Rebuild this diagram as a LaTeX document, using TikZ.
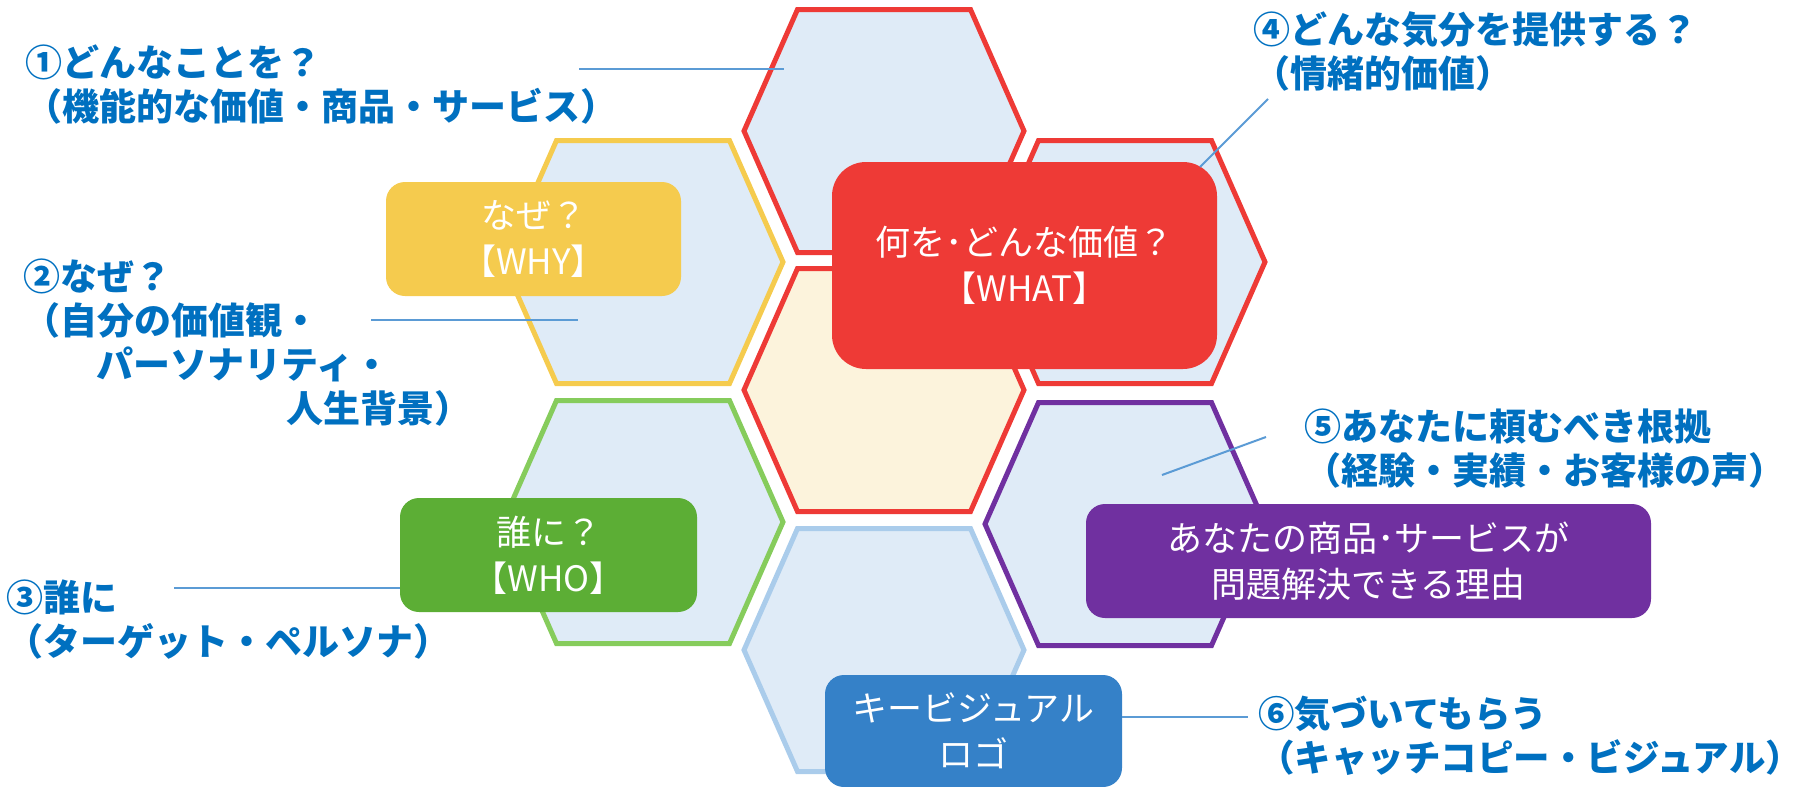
\documentclass[tikz,border=0pt]{standalone}
\usepackage{fontspec}
\newfontfamily\jpfont{Noto Sans CJK JP}
\definecolor{cellfill}{HTML}{DFEBF7}
\definecolor{corefill}{HTML}{FCF3DC}
\definecolor{wred}{HTML}{EE3A36}
\definecolor{wyellow}{HTML}{F5CB4E}
\definecolor{wgreen}{HTML}{5CAE35}
\definecolor{wgreenline}{HTML}{86CC5C}
\definecolor{wpurple}{HTML}{7030A0}
\definecolor{wblue}{HTML}{3581C8}
\definecolor{wblueline}{HTML}{AACCEB}
\definecolor{qblue}{HTML}{0070C0}
\definecolor{linkblue}{HTML}{5B9BD5}

% one honeycomb cell: centre, fill, border
\newcommand{\hexcell}[3]{\draw[line width=5pt, draw=#3, fill=#2] (#1) +(-140,0) -- +(-86.5,-121.5) -- +(86.5,-121.5) -- +(140,0) -- +(86.5,121.5) -- +(-86.5,121.5) -- cycle;}

\tikzset{
  card/.style={rectangle, rounded corners=19pt, inner sep=0pt, text=white, align=center,
    font=\jpfont\fontsize{35}{46}\selectfont},
  qtext/.style={anchor=west, inner sep=0pt, text=qblue, align=left,
    font=\jpfont\bfseries\fontsize{37}{44}\selectfont},
  link/.style={draw=linkblue, line width=2pt}
}

\begin{document}
\begin{tikzpicture}[x=1pt, y=-1pt]
\useasboundingbox (0,0) rectangle (1808,787);

\hexcell{884,131}{cellfill}{wred}
\hexcell{643,262}{cellfill}{wyellow}
\hexcell{1125,262}{cellfill}{wred}
\hexcell{884,390}{corefill}{wred}
\hexcell{643,522}{cellfill}{wgreenline}
\hexcell{1125,524}{cellfill}{wpurple}
\hexcell{884,650}{cellfill}{wblueline}

\node[card, fill=wyellow, minimum width=295, minimum height=114] (why) at (533.5,239) {なぜ？\\【WHY】};
\node[card, fill=wred, rounded corners=34pt, minimum width=385, minimum height=207] (what) at (1024.5,265.5) {何を･どんな価値？\\【WHAT】};
\node[card, fill=wgreen, minimum width=297, minimum height=114] (who) at (548.5,555) {誰に？\\【WHO】};
\node[card, fill=wpurple, minimum width=565, minimum height=114] (reason) at (1368.5,561) {あなたの商品･サービスが\\問題解決できる理由};
\node[card, fill=wblue, minimum width=297, minimum height=112] (logo) at (973.5,731) {キービジュアル\\ロゴ};

\node[qtext] (q1) at (25,84.5) {①どんなことを？\\（機能的な価値・商品・サービス）};
\node[qtext] (q2) at (23,343) {②なぜ？\\（自分の価値観・\\\hspace*{73pt}パーソナリティ・\\\hspace*{263pt}人生背景）};
\node[qtext] (q3) at (6,620) {③誰に\\（ターゲット・ペルソナ）};
\node[qtext] (q4) at (1253,51) {④どんな気分を提供する？\\（情緒的価値）};
\node[qtext] (q5) at (1304,449) {⑤あなたに頼むべき根拠\\（経験・実績・お客様の声）};
\node[qtext, font=\jpfont\bfseries\fontsize{36.5}{44}\selectfont] (q6) at (1258,735.5) {⑥気づいてもらう\\（キャッチコピー・ビジュアル）};

\coordinate (l1a) at (579,69);   \coordinate (l1b) at (784,69);
\coordinate (l2a) at (371,320);  \coordinate (l2b) at (578,320);
\coordinate (l3a) at (174,588);  \coordinate (l3b) at (400,588);
\coordinate (l4a) at (1268,99);  \coordinate (l4b) at (1200,167);
\coordinate (l5a) at (1266,437); \coordinate (l5b) at (1162,475);
\coordinate (l6a) at (1122,717); \coordinate (l6b) at (1248,717);
\draw[link] (l1a) -- (l1b);
\draw[link] (l2a) -- (l2b);
\draw[link] (l3a) -- (l3b);
\draw[link] (l4a) -- (l4b);
\draw[link] (l5a) -- (l5b);
\draw[link] (l6a) -- (l6b);
\end{tikzpicture}
\end{document}
